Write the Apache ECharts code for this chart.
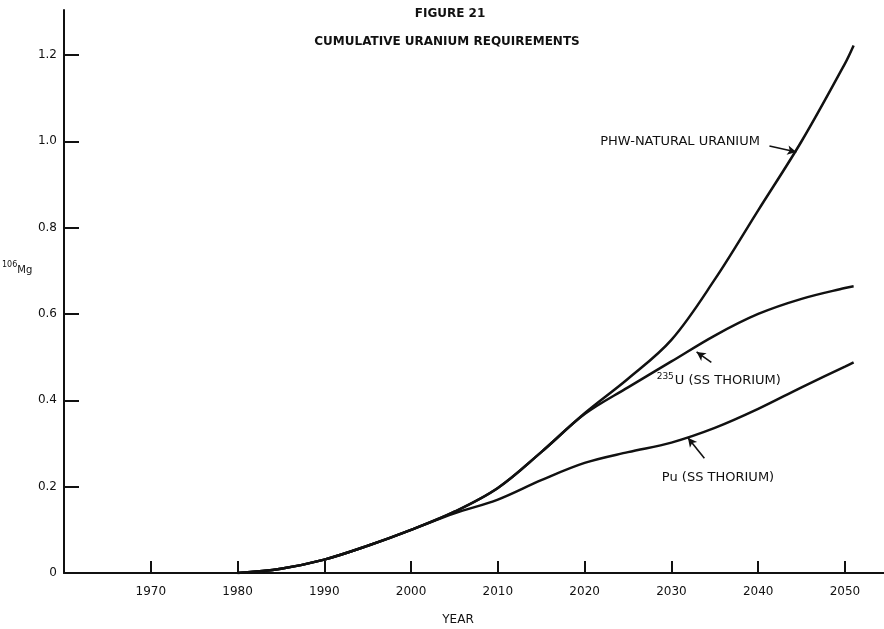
<!DOCTYPE html>
<html>
<head>
<meta charset="utf-8">
<script src="https://cdn.jsdelivr.net/npm/echarts@6/dist/echarts.min.js"></script>
<style>
  html, body { margin: 0; padding: 0; background: #fff; }
  #chart { width: 884px; height: 629px; }
</style>
</head>
<body>
<div id="chart"></div>
<script>
// Cumulative uranium requirements, 10^6 Mg, by year
const years   = [1980, 1985, 1990, 1995, 2000, 2005, 2010, 2015, 2020, 2025, 2030, 2035, 2040, 2045, 2050, 2051];
const phwNat  = [0, 0.010, 0.031, 0.063, 0.100, 0.142, 0.197, 0.280, 0.370, 0.450, 0.540, 0.680, 0.840, 1.000, 1.180, 1.222];
const u235Th  = [0, 0.010, 0.031, 0.063, 0.100, 0.142, 0.197, 0.280, 0.368, 0.430, 0.490, 0.550, 0.600, 0.635, 0.660, 0.664];
const puTh    = [0, 0.010, 0.031, 0.063, 0.100, 0.138, 0.170, 0.215, 0.255, 0.280, 0.302, 0.336, 0.380, 0.430, 0.478, 0.488];

const xTicks = [1970, 1980, 1990, 2000, 2010, 2020, 2030, 2040, 2050];
const yTicks = [0.2, 0.4, 0.6, 0.8, 1.0, 1.2];
const yLabels = [0, 0.2, 0.4, 0.6, 0.8, 1.0, 1.2];

// curve annotations: text anchor [year, value], arrow from -> to
const notes = [
  { text: 'PHW-NATURAL URANIUM',      at: [2021.8, 1.0],   from: [2041.3, 0.989], to: [2044.4, 0.975] },
  { text: '{sup|235}U (SS THORIUM)',  at: [2028.3, 0.445], from: [2034.6, 0.488], to: [2032.9, 0.512] },
  { text: 'Pu (SS THORIUM)',          at: [2028.9, 0.220], from: [2033.8, 0.266], to: [2031.9, 0.313] }
];

const FONT = 'DejaVu Sans';
const INK = '#111';

const pairs = arr => years.map((y, i) => [y, arr[i]]);

const chart = echarts.init(document.getElementById('chart'), null, { renderer: 'canvas' });

function lineSeries(name, data, noteIdx) {
  const n = notes[noteIdx];
  return {
    name: name,
    type: 'line',
    data: pairs(data),
    smooth: 0.35,
    symbol: 'none',
    lineStyle: { color: INK, width: 2.5 },
    z: 3,
    markLine: {
      silent: true,
      symbol: ['none', 'arrow'],
      symbolSize: [7, 9],
      label: { show: false },
      lineStyle: { color: INK, width: 1.6, type: 'solid' },
      data: [[{ coord: n.from }, { coord: n.to }]]
    }
  };
}

chart.setOption({
  animation: false,
  backgroundColor: '#fff',
  grid: { left: 64, right: 0, top: 10, bottom: 56 },
  xAxis: {
    type: 'value',
    min: 1960,
    max: 2054.5,
    axisLine: { show: true, lineStyle: { color: INK, width: 2 } },
    axisTick: { show: true, inside: true, length: 12, customValues: xTicks, lineStyle: { color: INK, width: 2 } },
    axisLabel: {
      customValues: xTicks, margin: 13, color: INK, fontFamily: FONT, fontSize: 12,
      formatter: v => String(v)
    },
    splitLine: { show: false }
  },
  yAxis: {
    type: 'value',
    min: 0,
    max: 1.304,
    axisLine: { show: true, lineStyle: { color: INK, width: 2 } },
    axisTick: { show: true, inside: true, length: 15, customValues: yTicks, lineStyle: { color: INK, width: 2 } },
    axisLabel: {
      customValues: yLabels, margin: 7, color: INK, fontFamily: FONT, fontSize: 12,
      formatter: v => v === 0 ? '0' : v.toFixed(1)
    },
    splitLine: { show: false }
  },
  series: [
    lineSeries('PHW-NATURAL URANIUM', phwNat, 0),
    lineSeries('235U (SS THORIUM)', u235Th, 1),
    lineSeries('Pu (SS THORIUM)', puTh, 2)
  ]
});

function placeText() {
  const font = (size, bold) => (bold ? 'bold ' : '') + size + 'px "' + FONT + '"';
  const els = [
    { type: 'text', x: 450, y: 14, style: { text: 'FIGURE 21', fill: INK, font: font(12, true), align: 'center', verticalAlign: 'middle' } },
    { type: 'text', x: 447, y: 42, style: { text: 'CUMULATIVE URANIUM REQUIREMENTS', fill: INK, font: font(12, true), align: 'center', verticalAlign: 'middle' } },
    { type: 'text', x: 458, y: 620, style: { text: 'YEAR', fill: INK, font: font(12), align: 'center', verticalAlign: 'middle' } },
    { type: 'text', x: 2, y: 268,
      style: {
        text: '{s|106}{m|Mg}', fill: INK, align: 'left', verticalAlign: 'middle',
        rich: {
          s: { fontSize: 8, fontFamily: FONT, verticalAlign: 'top', fill: INK },
          m: { fontSize: 10, fontFamily: FONT, verticalAlign: 'bottom', padding: [5, 0, 0, 0], fill: INK }
        }
      } }
  ];

  notes.forEach(n => {
    const p = chart.convertToPixel({ gridIndex: 0 }, n.at);
    els.push({
      type: 'text', x: p[0], y: p[1],
      style: {
        text: n.text, fill: INK, font: font(13), verticalAlign: 'middle',
        rich: { sup: { fontSize: 9, verticalAlign: 'top', padding: [0, 1, 8, 0], fill: INK, fontFamily: FONT } }
      }
    });
  });
  chart.setOption({ graphic: els });
}
placeText();
</script>
</body>
</html>
